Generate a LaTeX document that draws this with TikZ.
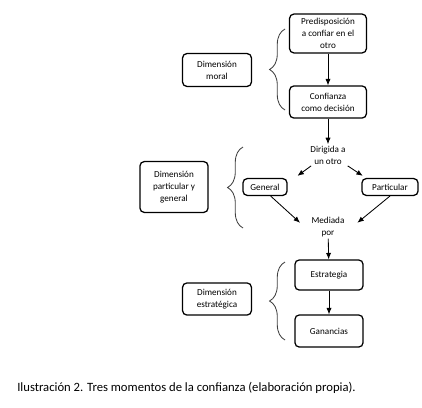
\documentclass[tikz,border=0pt]{standalone}
\usepackage{fontspec}
\setmainfont{Carlito}
\usetikzlibrary{arrows.meta,positioning,decorations.pathreplacing}
\tikzset{
  box/.style={draw, rounded corners=3pt, line width=0.9pt, align=center,
              font=\fontsize{6.5}{8.5}\selectfont, inner sep=2pt},
  lbl/.style={align=center, font=\fontsize{6.5}{8.5}\selectfont, inner sep=1pt},
  arr/.style={-{Latex[length=1.6mm,width=1.3mm]}, semithick},
  brc/.style={decorate, decoration={brace, amplitude=11pt}, semithick, black!75},
}

\begin{document}
\begin{tikzpicture}[x=0.025cm, y=-0.025cm]
    \useasboundingbox (0,0) rectangle (422,408);
    % first moment
    \node[box, minimum width=1.92cm, minimum height=0.97cm] (pred) at (328,33.5) {Predisposición\\a confiar en el\\otro};
    \node[box, minimum width=1.92cm, minimum height=0.8cm] (conf) at (328,102) {Confianza\\como decisión};
    \node[box, minimum width=1.72cm, minimum height=0.82cm] (moral) at (217,70) {Dimensión\\moral};
    % second moment
    \node[lbl] (dir) at (328,155) {Dirigida a\\un otro};
    \node[box, minimum width=1.1cm, minimum height=0.42cm] (gen) at (265,187) {General};
    \node[box, minimum width=1.4cm, minimum height=0.42cm] (part) at (390,187) {Particular};
    \node[box, minimum width=1.7cm, minimum height=1.27cm] (pg) at (174,187) {Dimensión\\particular y\\general};
    \node[lbl] (med) at (328,227) {Mediada\\por};
    % third moment
    \node[box, minimum width=1.7cm, minimum height=0.75cm] (estr) at (329,275) {Estrategia};
    \node[box, minimum width=1.7cm, minimum height=0.8cm] (gan) at (329,331) {Ganancias};
    \node[box, minimum width=1.72cm, minimum height=0.8cm] (estrat) at (217,299) {Dimensión\\estratégica};
    \node[anchor=west, font=\fontsize{9}{11}\selectfont, inner sep=0pt] (cap) at (17,388)
      {Ilustración 2. Tres momentos de la confianza (elaboración propia).};

    \draw[arr] (pred) -- (conf);
    \draw[arr] (conf) -- (dir);
    \draw[arr] ([xshift=-12pt]dir.south) -- ([xshift=7pt,yshift=1.5pt]gen.north east);
    \draw[arr] ([xshift=14pt]dir.south) -- ([xshift=1pt,yshift=1.5pt]part.north west);
    \draw[arr] ([xshift=4pt]gen.south) -- ([xshift=-7pt,yshift=3pt]med.west);
    \draw[arr] (part.south) -- ([xshift=8pt,yshift=3pt]med.east);
    \draw[arr] (med) -- (estr);
    \draw[arr] (estr) -- (gan);

    \coordinate (b1a) at (285,110); \coordinate (b1b) at (285,29);
    \coordinate (b2a) at (243,228); \coordinate (b2b) at (243,147);
    \coordinate (b3a) at (285,340); \coordinate (b3b) at (285,262);
    \draw[brc] (b1a) -- (b1b);
    \draw[brc] (b2a) -- (b2b);
    \draw[brc] (b3a) -- (b3b);
\end{tikzpicture}
\end{document}
